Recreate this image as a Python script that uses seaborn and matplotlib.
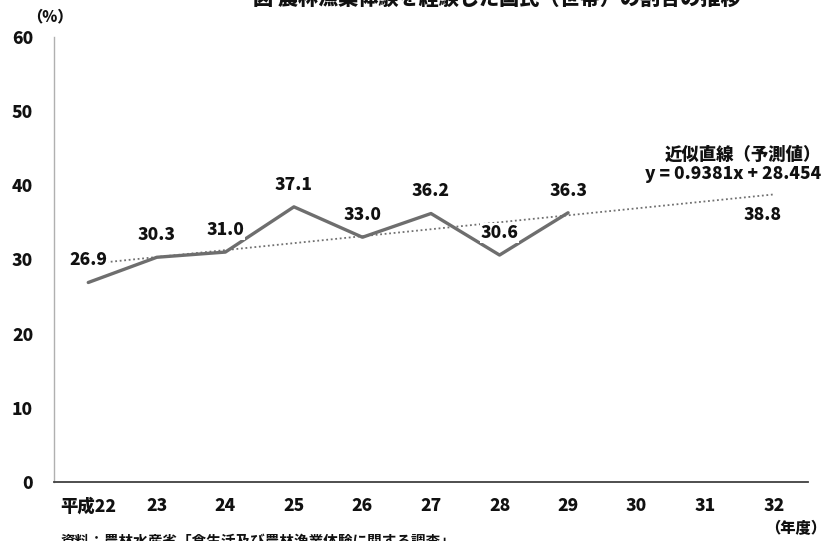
import numpy as np
import pandas as pd
import matplotlib
matplotlib.use("Agg")
import matplotlib.pyplot as plt
import seaborn as sns

# data
years = ["平成22", "23", "24", "25", "26", "27", "28", "29", "30", "31", "32"]
rates = [26.9, 30.3, 31.0, 37.1, 33.0, 36.2, 30.6, 36.3]
trend_label = "近似直線（予測値）"
trend_eq = "y = 0.9381x + 28.454"

sns.set_theme(style="white")
plt.rcParams['font.family'] = ['Noto Sans CJK JP', 'DejaVu Sans']
plt.rcParams['font.weight'] = 'bold'

df = pd.DataFrame({"pos": np.arange(len(rates)), "rate": rates})

# linear trend (Excel style, x = 1, 2, ...)
slope, icpt = np.polyfit(np.arange(1, len(rates) + 1), rates, 1)
tdf = pd.DataFrame({"pos": np.arange(len(years))})
tdf["rate"] = slope * (tdf["pos"] + 1) + icpt

fig = plt.figure(figsize=(8.27, 5.41), dpi=100)
ax = fig.add_axes([54 / 827, 59 / 541, 754 / 827, 445 / 541])

sns.lineplot(data=tdf, x="pos", y="rate", ax=ax, color="#707070",
             linestyle=(0, (1, 1.5)), linewidth=1.3)
sns.lineplot(data=df, x="pos", y="rate", ax=ax, color="#6e6e6e", linewidth=2.4)

for p, v in zip(df["pos"], df["rate"]):
    ax.annotate(f"{v:.1f}", (p, v), xytext=(0, 16), textcoords="offset points",
                ha="center", va="center", fontsize=12.5, fontweight="heavy",
                color="#111111",
                bbox=dict(boxstyle="square,pad=0.05", fc="white", ec="none"))

last = tdf["rate"].iloc[-1]
ax.annotate(f"{last:.1f}", (tdf["pos"].iloc[-1], last), xytext=(-8, -15),
            textcoords="offset points", ha="center", va="center",
            fontsize=12.5, fontweight="heavy", color="#111111")

ax.set_xlim(-0.5, len(years) - 0.5)
ax.set_ylim(0, 60)
ax.set_xticks(range(len(years)))
ax.set_xticklabels(years, fontweight="heavy")
ax.set_yticks(range(0, 61, 10))
ax.set_yticklabels([str(v) for v in range(0, 61, 10)], fontweight="heavy")
ax.tick_params(axis="x", length=0, pad=11, labelsize=12.5, labelcolor="#111111")
ax.tick_params(axis="y", length=0, pad=15, labelsize=12.5, labelcolor="#111111")
ax.set_xlabel("")
ax.set_ylabel("")

sns.despine(ax=ax)
ax.spines["left"].set_color("#b0b0b0")
ax.spines["left"].set_linewidth(1.0)
ax.spines["bottom"].set_color("#404040")
ax.spines["bottom"].set_linewidth(1.3)

fig.text(821 / 827, 1 - 155 / 541, trend_label, ha="right", va="center",
         fontsize=12.5, fontweight="heavy", color="#111111")
fig.text(821 / 827, 1 - 174 / 541, trend_eq, ha="right", va="center",
         fontsize=12.5, fontweight="heavy", color="#111111")

fig.text(50 / 827, 1 - 17 / 541, "（%）", ha="center", va="center",
         fontsize=11, fontweight="heavy", color="#111111")
fig.text(826 / 827, 1 - 528 / 541, "（年度）", ha="right", va="center",
         fontsize=11, fontweight="heavy", color="#111111")

fig.text(497 / 827, 1 - (-1) / 541, "図 農林漁業体験を経験した国民（世帯）の割合の推移",
         ha="center", va="center", fontsize=14.5, fontweight="heavy", color="#111111")
fig.text(60 / 827, 1 - 533 / 541, "資料：農林水産省「食生活及び農林漁業体験に関する調査」",
         ha="left", va="top", fontsize=10.5, color="#111111")

fig.savefig("out.png", dpi=100)
